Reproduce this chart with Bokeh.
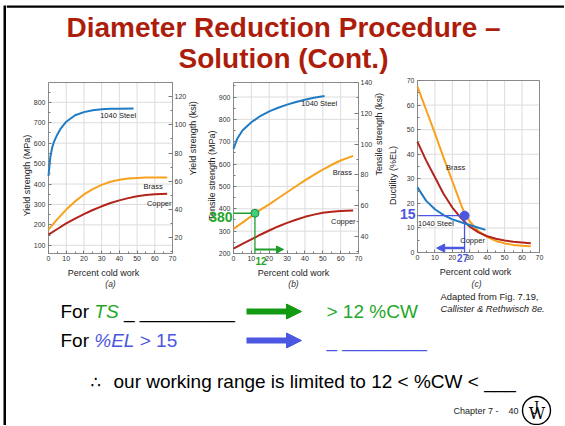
import math
from bokeh.plotting import figure
from bokeh.models import Range1d, LinearAxis, FixedTicker, Label, Arrow, NormalHead
from bokeh.layouts import row, column
from bokeh.embed import file_html
from bokeh.resources import INLINE
from bokeh.core.properties import value

FONT = "Liberation Sans"
MPA_PER_KSI = 6.895

# ---------------- data ----------------
cw_ticks = [0, 10, 20, 30, 40, 50, 60, 70]
cw_minor = [5, 15, 25, 35, 45, 55, 65]

# (a) yield strength, MPa
steel_ys_cw = [0, 1, 2, 3, 5, 7, 10, 15, 20, 25, 30, 35, 40, 48]
steel_ys = [440, 530, 575, 605, 643, 673, 705, 737, 752, 761, 766, 768, 769, 770]
alloy_cw = [0, 5, 10, 15, 20, 25, 30, 35, 40, 45, 50, 55, 60, 67]
brass_ys = [177, 228, 275, 315, 349, 375, 396, 411, 421, 427, 430, 432, 432, 432]
copper_ys = [152, 180, 207, 231, 253, 273, 291, 307, 320, 331, 340, 346, 350, 353]
ys_ticks = [100, 200, 300, 400, 500, 600, 700, 800]
ys_minor = [150, 250, 350, 450, 550, 650, 750, 850]
ys_ksi_ticks = [20, 40, 60, 80, 100, 120]

# (b) tensile strength, MPa
steel_ts_cw = [0, 2, 5, 10, 15, 20, 25, 30, 35, 40, 45, 51]
steel_ts = [668, 712, 750, 787, 815, 836, 852, 866, 878, 888, 897, 905]
brass_ts = [310, 338, 367, 395, 420, 447, 474, 501, 527, 552, 575, 597, 616, 637]
copper_ts = [222, 243, 263, 284, 303, 321, 337, 351, 364, 374, 382, 387, 390, 392]
ts_ticks = [200, 300, 400, 500, 600, 700, 800, 900]
ts_minor = [250, 350, 450, 550, 650, 750, 850, 950]
ts_ksi_ticks = [40, 60, 80, 100, 120, 140]

# (c) ductility, %EL
steel_el_cw = [0, 5, 10, 15, 20, 25, 30, 35, 39]
steel_el = [26.5, 21.0, 17.6, 15.2, 13.5, 12.3, 11.2, 10.1, 9.2]
brass_el_cw = [0, 5, 10, 15, 20, 25, 27, 30, 35, 40, 45, 50, 55, 60, 65]
brass_el = [67.5, 58, 48.5, 38.5, 29, 19.5, 16, 12.6, 8.7, 6.3, 4.7, 3.7, 3.1, 2.7, 2.5]
copper_el_cw = [0, 5, 10, 15, 20, 25, 30, 35, 40, 45, 50, 55, 60, 65]
copper_el = [45, 37.4, 30.6, 23.8, 18.3, 14.0, 10.5, 8.2, 6.6, 5.6, 4.9, 4.4, 4.1, 3.8]
el_ticks = [0, 10, 20, 30, 40, 50, 60, 70]
el_minor = [5, 15, 25, 35, 45, 55, 65]

# design point readings
ts_target, ts_cw = 380, 12
el_target, el_cw = 15, 27

STEEL = "#1f7bc4"
BRASS = "#f7a11c"
COPPER = "#b3241a"
GREEN = "#1e9e2c"
GREEN_TXT = "#1fa82a"
BLUE = "#4b57e0"
TITLE_RED = "#ad1d0b"
ROW_H = 202
X0, X1 = 0, 70


def style_axis(ax, tick_in=3, standoff=2, label_standoff=2):
    ax.axis_line_color = None
    ax.major_tick_in = tick_in
    ax.major_tick_out = 0
    ax.minor_tick_in = 2
    ax.minor_tick_out = 0
    ax.major_tick_line_color = "#7a7a7a"
    ax.minor_tick_line_color = "#7a7a7a"
    ax.major_label_text_font = FONT
    ax.major_label_text_font_size = "7px"
    ax.major_label_text_color = "#333333"
    ax.major_label_standoff = standoff
    ax.axis_label_text_font = FONT
    ax.axis_label_text_font_size = "9px"
    ax.axis_label_text_font_style = "normal"
    ax.axis_label_text_color = "#222222"
    ax.axis_label_standoff = label_standoff


def make_chart(width, bl, br, bt, bb, y0, y1, ylabel, yticks, yminor, ylab_standoff):
    """The frame fills the whole figure; the plot box (0..70, y0..y1) sits inside it with
    its axes pinned to the box edges, so read-off labels next to the box stay visible."""
    box_w = width - bl - br
    box_h = ROW_H - bt - bb
    sx = box_w / (X1 - X0)
    sy = box_h / (y1 - y0)
    p = figure(width=width, height=ROW_H,
               x_range=Range1d(X0 - bl / sx, X1 + br / sx),
               y_range=Range1d(y0 - bb / sy, y1 + bt / sy),
               toolbar_location=None, output_backend="svg", min_border=0,
               x_axis_location=None, y_axis_location=None)
    p.grid.visible = False
    p.outline_line_color = None
    # grid lines and plot box
    p.segment(x0=cw_ticks, y0=[y0] * len(cw_ticks), x1=cw_ticks, y1=[y1] * len(cw_ticks),
              line_color="#dcdcdc", line_width=1)
    p.segment(x0=[X0] * len(yticks), y0=yticks, x1=[X1] * len(yticks), y1=yticks,
              line_color="#dcdcdc", line_width=1)
    p.quad(left=[X0], right=[X1], bottom=[y0], top=[y1], fill_color=None,
           line_color="#8a8a8a", line_width=1)
    xax = LinearAxis(fixed_location=y0, axis_label="Percent cold work",
                     ticker=FixedTicker(ticks=cw_ticks, minor_ticks=cw_minor))
    style_axis(xax, standoff=2, label_standoff=4)
    p.add_layout(xax, "below")
    yax = LinearAxis(fixed_location=X0, axis_label=ylabel,
                     ticker=FixedTicker(ticks=yticks, minor_ticks=yminor))
    style_axis(yax, standoff=3, label_standoff=ylab_standoff)
    p.add_layout(yax, "left")
    return p


def add_ksi_axis(p, label, ticks, y0, y1, bt, bb):
    box_h = ROW_H - bt - bb
    sy = box_h / (y1 - y0)
    p.extra_y_ranges = {"ksi": Range1d((y0 - bb / sy) / MPA_PER_KSI, (y1 + bt / sy) / MPA_PER_KSI)}
    minor = [t - 10 for t in ticks] + [ticks[-1] + 10]
    ax = LinearAxis(y_range_name="ksi", axis_label=label, fixed_location=X1,
                    ticker=FixedTicker(ticks=ticks, minor_ticks=minor))
    style_axis(ax, tick_in=4, standoff=2, label_standoff=4)
    try:
        ax.axis_label_orientation = math.pi / 2
    except Exception:
        pass
    p.add_layout(ax, "right")


def lab(p, x, y, text, size="7.5px", color="#222222", align="center", bold=False, xoff=0):
    p.add_layout(Label(x=x, y=y, x_offset=xoff, text=text, text_align=align, text_baseline="middle",
                       text_font=FONT, text_font_size=size, text_color=color,
                       text_font_style="bold" if bold else "normal"))


# ---------------- chart (a) ----------------
fa = make_chart(194, 42, 28, 8, 23, 60, 897, "Yield strength (MPa)", ys_ticks, ys_minor, -1)
add_ksi_axis(fa, "Yield strength (ksi)", ys_ksi_ticks, 60, 897, 8, 23)
fa.line(steel_ys_cw, steel_ys, line_color=STEEL, line_width=2)
fa.line(alloy_cw, brass_ys, line_color=BRASS, line_width=2)
fa.line(alloy_cw, copper_ys, line_color=COPPER, line_width=2)
lab(fa, 39.3, 734, "1040 Steel")
lab(fa, 59.1, 386, "Brass")
lab(fa, 62.5, 303, "Copper")

# ---------------- chart (b) ----------------
fb = make_chart(186, 33, 28, 8, 23, 200, 965, "Tensile strength (MPa)", ts_ticks, ts_minor, -1)
add_ksi_axis(fb, "Tensile strength (ksi)", ts_ksi_ticks, 200, 965, 8, 23)
fb.line(steel_ts_cw, steel_ts, line_color=STEEL, line_width=2)
fb.line(alloy_cw, brass_ts, line_color=BRASS, line_width=2)
fb.line(alloy_cw, copper_ts, line_color=COPPER, line_width=2)
lab(fb, 48, 870, "1040 Steel")
lab(fb, 61, 561, "Brass")
lab(fb, 61.5, 342, "Copper")
fb.line([X0, ts_cw], [ts_target, ts_target], line_color=GREEN, line_width=1.3)
fb.line([ts_cw, ts_cw], [ts_target, 200], line_color=GREEN, line_width=1.3)
fb.add_layout(Arrow(x_start=ts_cw, y_start=218, x_end=28, y_end=218, line_color=GREEN, line_width=2,
                    end=NormalHead(size=7, fill_color=GREEN, line_color=GREEN)))
fb.scatter([ts_cw], [ts_target], size=8, fill_color="#3fd07a", line_color="#1a8a3a", line_width=1)
lab(fb, X0, 362, str(ts_target), "14px", GREEN_TXT, "right", True, -1)
lab(fb, ts_cw + 0.3, 165, str(ts_cw), "10px", GREEN_TXT, "left", True)

# ---------------- chart (c) ----------------
fc = make_chart(178, 31, 25, 6, 24, 0, 70, "Ductility (%EL)", el_ticks, el_minor, 6)
fc.line(brass_el_cw, brass_el, line_color=BRASS, line_width=2)
fc.line(copper_el_cw, copper_el, line_color=COPPER, line_width=2)
fc.line(steel_el_cw, steel_el, line_color=STEEL, line_width=2)
lab(fc, 21.9, 34.5, "Brass")
lab(fc, 0.3, 11.7, "1040 Steel", align="left")
lab(fc, 31.6, 4.8, "Copper")
fc.line([X0, el_cw], [el_target, el_target], line_color=BLUE, line_width=1.3)
fc.line([el_cw, el_cw], [el_target, 0], line_color=BLUE, line_width=1.3)
fc.add_layout(Arrow(x_start=el_cw, y_start=1.8, x_end=11, y_end=1.8, line_color=BLUE, line_width=2.5,
                    end=NormalHead(size=8, fill_color=BLUE, line_color=BLUE)))
fc.scatter([el_cw], [el_target], size=9, fill_color=BLUE, line_color=BLUE)
lab(fc, X0, 15.6, str(el_target), "14px", BLUE, "right", True, -2)
lab(fc, 25.9, -2.4, str(el_cw), "10px", BLUE, "center", True)


def canvas(width, height, x0, x1, ytop, ybot):
    p = figure(width=width, height=height, x_range=Range1d(x0, x1), y_range=Range1d(ybot, ytop),
               toolbar_location=None, output_backend="svg", min_border=0,
               x_axis_location=None, y_axis_location=None)
    p.grid.visible = False
    p.outline_line_color = None
    return p


def txt(p, x, y, s, size, color="black", style="normal", align="left", font=FONT):
    p.text(x=[x], y=[y], text=[s], text_align=align, text_baseline="middle",
           text_font=value(font), text_font_size=size, text_font_style=style, text_color=color)


# ---------------- title strip (page px coordinates) ----------------
top = canvas(558, 74, 6, 564, 0, 74)
top.quad(left=[6], right=[564], top=[5], bottom=[7.3], fill_color="black", line_color=None)
txt(top, 283, 27, "Diameter Reduction Procedure \u2013", "28px", TITLE_RED, "bold", "center")
txt(top, 283, 58, "Solution (Cont.)", "28px", TITLE_RED, "bold", "center")

# ---------------- bottom strip ----------------
bot = canvas(558, 149, 6, 564, 276, 425)
for cx, cap in zip([110, 293, 476], ["(a)", "(b)", "(c)"]):
    txt(bot, cx, 283, cap, "8.5px", "#333333", "italic", "center")
txt(bot, 440, 296, "Adapted from Fig. 7.19,", "9.4px", "#222222")
txt(bot, 440, 308, "Callister & Rethwisch 8e.", "9.4px", "#222222", "italic")

FS = "19px"
r1, r2, r3 = 311, 340, 381
txt(bot, 60, r1, "For", FS)
txt(bot, 93.8, r1, "TS", FS, GREEN_TXT, "italic")
txt(bot, 123.4, r1, "_ _________", FS)
txt(bot, 60, r2, "For", FS)
txt(bot, 93.8, r2, "%EL", FS, BLUE, "italic")
txt(bot, 139.2, r2, "> 15", FS, BLUE)
txt(bot, 326, r1, "> 12 %CW", FS, GREEN_TXT)
txt(bot, 326, r2, "_ ________", FS, BLUE)
bot.add_layout(Arrow(x_start=246, y_start=r1, x_end=301, y_end=r1, line_color="#129a12", line_width=6,
                     end=NormalHead(size=15, fill_color="#129a12", line_color="#129a12")))
bot.add_layout(Arrow(x_start=246, y_start=r2, x_end=301, y_end=r2, line_color=BLUE, line_width=6,
                     end=NormalHead(size=15, fill_color=BLUE, line_color=BLUE)))
txt(bot, 90, r3, "\u2234", "17px", font="DejaVu Sans")
txt(bot, 113, r3, "our working range is limited to 12 < %CW < ___", FS)
txt(bot, 453, 410, "Chapter 7 -", "9px", "#222222")
txt(bot, 508, 410, "40", "9px", "#222222")
bot.scatter([536], [410], size=28, fill_color=None, line_color="black", line_width=1.4)
txt(bot, 536.5, 413, "W", "16px", align="center", font="DejaVu Serif")
txt(bot, 536, 406, "J", "13px", align="center", font="DejaVu Serif")

# ---------------- left slide border ----------------
bar = canvas(6, 425, 0, 6, 0, 425)
bar.quad(left=[3], right=[5.5], top=[5], bottom=[425], fill_color="black", line_color=None)

layout = row(bar, column(top, row(fa, fb, fc), bot))
open("out.html", "w").write(file_html(layout, INLINE))
